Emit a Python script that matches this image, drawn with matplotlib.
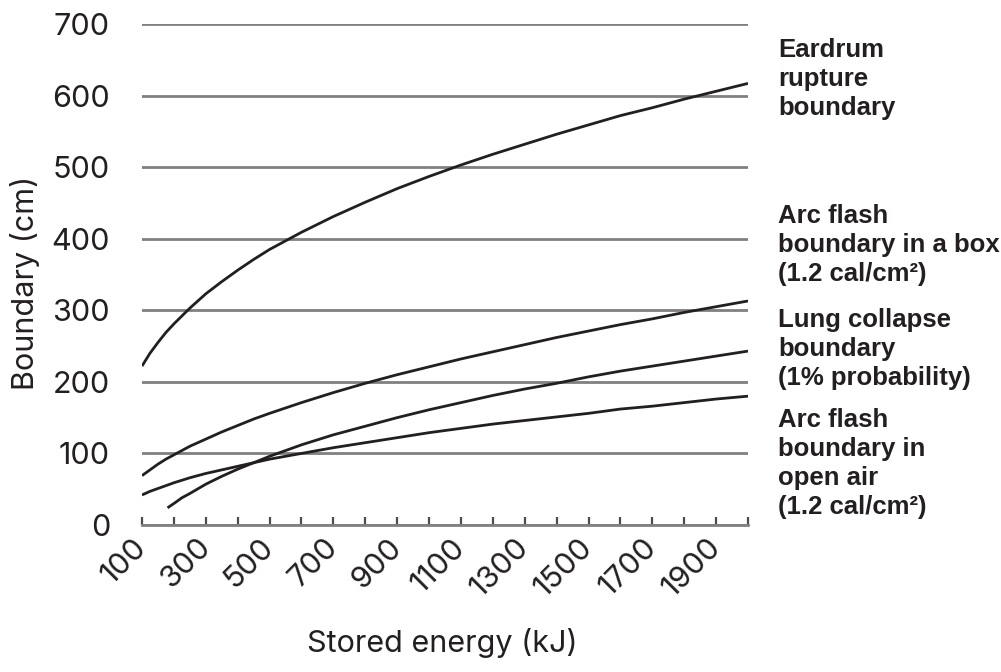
import numpy as np
import matplotlib.pyplot as plt

plt.rcParams['font.family'] = ['Inter', 'DejaVu Sans']

# stored energy (kJ)
energy = [100, 125, 150, 175, 200, 250, 300, 350, 400, 450, 500, 600, 700, 800,
          900, 1000, 1100, 1200, 1300, 1400, 1500, 1600, 1700, 1800, 1900, 2000]
lung_energy = [180, 200, 225, 250, 300, 350, 400, 450, 500, 600, 700, 800,
               900, 1000, 1100, 1200, 1300, 1400, 1500, 1600, 1700, 1800, 1900, 2000]

# boundaries (cm)
eardrum = [222, 240, 255, 269, 281, 303, 323, 340, 356, 371, 385, 409, 431, 451,
           470, 487, 503, 518, 532, 546, 559, 572, 583, 595, 606, 617]
arc_box = [69, 77, 85, 92, 98, 110, 120, 130, 139, 148, 156, 171, 185, 198,
           210, 221, 232, 242, 252, 262, 271, 280, 288, 297, 305, 313]
arc_open = [42, 47, 51, 55, 59, 66, 72, 77, 82, 87, 92, 100, 108, 115,
            122, 129, 135, 141, 146, 151, 156, 162, 166, 171, 176, 180]
lung = [24, 30, 38, 44, 57, 68, 78, 87, 96, 112, 126, 138,
        150, 161, 171, 181, 190, 198, 207, 215, 222, 229, 236, 243]

tick_pos = list(range(100, 2001, 100))
x_labels = [str(v) if (v // 100) % 2 == 1 else '' for v in tick_pos]
y_ticks = [0, 100, 200, 300, 400, 500, 600, 700]

labels = ['Eardrum\nrupture\nboundary',
          'Arc flash\nboundary in a box\n(1.2 cal/cm²)',
          'Lung collapse\nboundary\n(1% probability)',
          'Arc flash\nboundary in\nopen air\n(1.2 cal/cm²)']
label_top_px = [38, 204, 308, 408]

W, H = 1001, 672
fig = plt.figure(figsize=(W / 100, H / 100), dpi=100)
ax = fig.add_axes([142 / W, 1 - 525 / H, (748 - 142) / W, (525 - 24) / H])

line_col = '#231f20'
grid_col = '#808080'
for xs, ys in [(energy, eardrum), (energy, arc_box), (lung_energy, lung), (energy, arc_open)]:
    ax.plot(xs, ys, color=line_col, lw=2.0, solid_capstyle='butt', zorder=3)

ax.set_xlim(100, 2000)
ax.set_ylim(0, 700)
ax.set_yticks(y_ticks)
ax.set_xticks(tick_pos)
ax.set_xticklabels(x_labels, rotation=45, ha='right', va='center',
                   rotation_mode='anchor')
ax.grid(axis='y', color=grid_col, lw=2.0, zorder=1)
ax.grid(axis='x', visible=False)

for s in ['top', 'right', 'left']:
    ax.spines[s].set_visible(False)
ax.spines['bottom'].set_color(grid_col)
ax.spines['bottom'].set_linewidth(2.0)

ax.tick_params(axis='y', length=0, pad=23, labelsize=22, labelcolor='#231f20')
ax.tick_params(axis='x', direction='in', length=6, width=1.6, color='#4d4d4d',
               pad=13, labelsize=22, labelcolor='#231f20')

ax.set_ylabel('Boundary (cm)', fontsize=22, color='#231f20')
ax.yaxis.set_label_coords(-0.168, 0.483)
ax.set_xlabel('Stored energy (kJ)', fontsize=22, color='#231f20')
ax.xaxis.set_label_coords(0.495, -0.205)

for txt, top in zip(labels, label_top_px):
    fig.text(778 / W, 1 - top / H, txt, ha='left', va='top', fontsize=18.5,
             fontweight='bold', color='#231f20', linespacing=1.27,
             family=['Liberation Sans', 'DejaVu Sans'])

fig.savefig('out.png', dpi=100)
